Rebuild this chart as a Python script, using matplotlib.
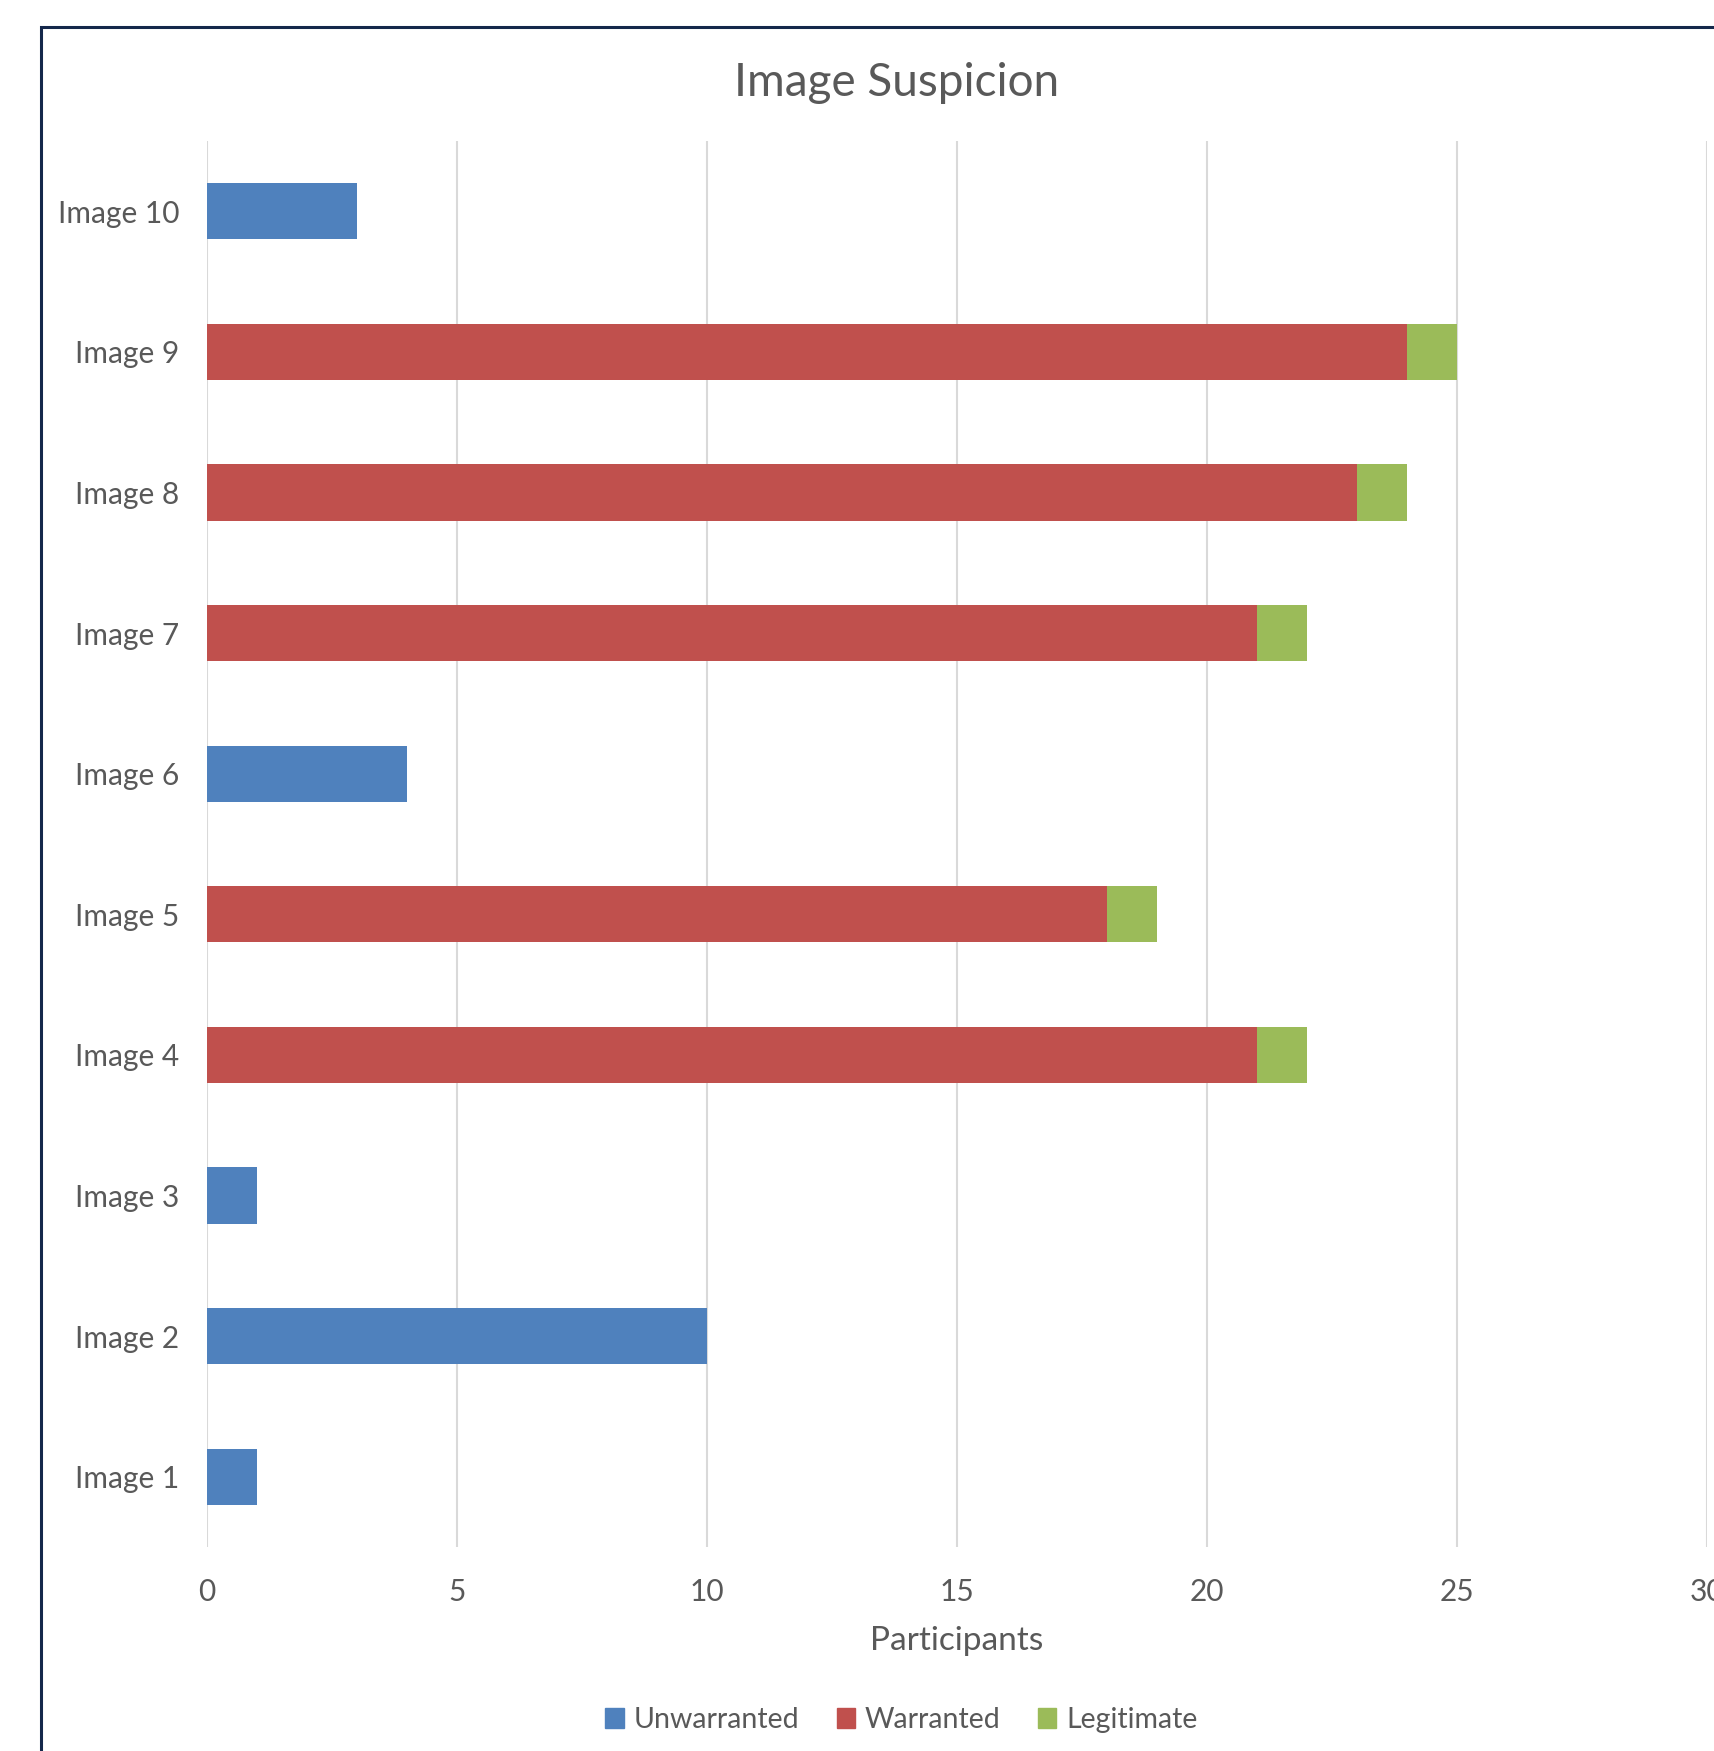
from matplotlib import pyplot as plt
from matplotlib.patches import Rectangle, Patch

# values
images = ["Image 1", "Image 2", "Image 3", "Image 4", "Image 5",
          "Image 6", "Image 7", "Image 8", "Image 9", "Image 10"]
unwarranted = [1, 10, 1, 0, 0, 4, 0, 0, 0, 3]
warranted = [0, 0, 0, 21, 18, 0, 21, 23, 24, 0]
legitimate = [0, 0, 0, 1, 1, 0, 1, 1, 1, 0]
xticks = [0, 5, 10, 15, 20, 25, 30]

blue = "#4F81BD"
red = "#C0504D"
green = "#9BBB59"
textcol = "#595959"

plt.rcParams["font.family"] = ["Lato", "DejaVu Sans"]

W, H = 1714, 1751
fig = plt.figure(figsize=(W / 100, H / 100), dpi=100)
ax = fig.add_axes([207 / W, (H - 1547) / H, 1500 / W, 1406 / H])

y = list(range(len(images)))
ax.barh(y, unwarranted, height=0.4, color=blue, label="Unwarranted", zorder=3)
ax.barh(y, warranted, height=0.4, left=unwarranted, color=red, label="Warranted", zorder=3)
left2 = [a + b for a, b in zip(unwarranted, warranted)]
ax.barh(y, legitimate, height=0.4, left=left2, color=green, label="Legitimate", zorder=3)

ax.set_xlim(0, 30)
ax.set_ylim(-0.5, len(images) - 0.5)
ax.set_xticks(xticks)
ax.set_yticks(y)
ax.set_yticklabels(images)
ax.tick_params(length=0, labelsize=21.5, labelcolor=textcol)
ax.tick_params(axis="y", pad=20)
ax.tick_params(axis="x", pad=22)
ax.grid(axis="x", color="#D9D9D9", linewidth=1.5, zorder=0)
for s in ax.spines.values():
    s.set_visible(False)
ax.set_xlabel("Participants", fontsize=24, color=textcol, labelpad=15)

fig.text(0.523, 1 - 83 / H, "Image Suspicion", ha="center", va="center",
         fontsize=33, color=textcol)

handles = [Patch(color=blue, label="Unwarranted"),
           Patch(color=red, label="Warranted"),
           Patch(color=green, label="Legitimate")]
leg = fig.legend(handles=handles, loc="center", bbox_to_anchor=(0.526, 1 - 1720 / H),
                 ncol=3, frameon=False, fontsize=20.5, handlelength=0.65, handleheight=0.65,
                 handletextpad=0.35, columnspacing=1.3)
for t in leg.get_texts():
    t.set_color(textcol)

# chart border (runs off the right and bottom edges)
fig.patches.append(Rectangle((41 / W, -0.05), 1.2, 1 - 27 / H + 0.05,
                             transform=fig.transFigure, fill=False,
                             edgecolor="#14284B", linewidth=2.2))

fig.savefig("out.png", dpi=100, facecolor="white")
